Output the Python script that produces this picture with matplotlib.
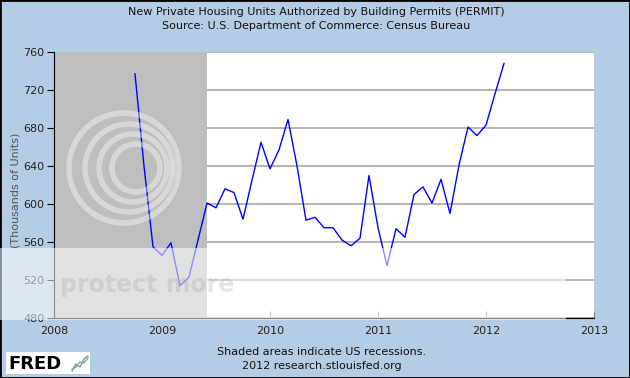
import numpy as np
import matplotlib
matplotlib.use("Agg")
import matplotlib.pyplot as plt
from matplotlib.patches import Rectangle, Ellipse
from matplotlib.lines import Line2D

# monthly values, Oct 2008 .. Mar 2012 (thousands of units)
start_year = 2008
start_month = 10
permits = [737, 640, 555,
           546, 559, 514, 523, 562, 601, 596, 616, 612, 584, 625, 665,
           637, 657, 689, 640, 583, 586, 575, 575, 562, 556, 564, 630,
           575, 535, 574, 565, 610, 618, 601, 626, 590, 641, 681, 672,
           683, 716, 748]
recession = (2008.0, 2009 + 5/12)   # Dec 2007 - Jun 2009
year_ticks = [2008, 2009, 2010, 2011, 2012, 2013]
y_ticks = [480, 520, 560, 600, 640, 680, 720, 760]

title1 = "New Private Housing Units Authorized by Building Permits (PERMIT)"
title2 = "Source: U.S. Department of Commerce: Census Bureau"
note1 = "Shaded areas indicate US recessions."
note2 = "2012 research.stlouisfed.org"

W, H = 630, 378
BG = "#b4cce4"

def fx(px):
    return px / W

def fy(py):
    return 1 - py / H

t = np.array([start_year + (start_month - 1 + i) / 12 for i in range(len(permits))])

fig = plt.figure(figsize=(W/100, H/100), dpi=100, facecolor=BG)
ax = fig.add_axes([fx(54), fy(318), fx(594) - fx(54), fy(52) - fy(318)])
ax.set_facecolor("white")

ax.set_xlim(2008, 2013)
ax.set_ylim(480, 760)
ax.set_yticks(y_ticks)
ax.set_xticks(year_ticks)
ax.grid(axis="y", color="#a8a8a8", linewidth=1.2, zorder=1)
ax.axvspan(recession[0], recession[1], color="#bebebe", lw=0, zorder=2)
ax.plot(t, permits, color="#0000ff", linewidth=1.0, zorder=3)

for s in ["top", "right"]:
    ax.spines[s].set_visible(False)
ax.spines["left"].set_color("black")
ax.spines["bottom"].set_color("black")
ax.tick_params(axis="y", direction="out", length=5, color="black",
               labelsize=8, labelcolor="#222222", pad=2)
ax.tick_params(axis="x", direction="in", length=5, color="#888888",
               labelsize=8, labelcolor="#222222", pad=6)

fig.text(fx(16), fy(190), "(Thousands of Units)", rotation=90,
         ha="center", va="center", fontsize=8, color="#555555")
fig.text(fx(316), fy(12), title1, ha="center", va="center", fontsize=8, color="#111111")
fig.text(fx(316), fy(26), title2, ha="center", va="center", fontsize=8, color="#111111")
fig.text(fx(322), fy(352), note1, ha="center", va="center", fontsize=8, color="#111111")
fig.text(fx(322), fy(366), note2, ha="center", va="center", fontsize=8, color="#111111")

# FRED logo
fig.add_artist(Rectangle((fx(6), fy(374)), fx(84), fy(352) - fy(374),
                         transform=fig.transFigure, facecolor="white", edgecolor="none"))
fig.text(fx(8), fy(364), "FRED", ha="left", va="center", fontsize=13,
         fontweight="bold", color="black")
fig.add_artist(Line2D([fx(72), fx(76), fx(80), fx(84), fx(88)],
                      [fy(371), fy(364), fy(367), fy(359), fy(356)],
                      transform=fig.transFigure, color="#6aa84f", lw=1))
fig.add_artist(Line2D([fx(72), fx(76), fx(80), fx(84), fx(88)],
                      [fy(369), fy(367), fy(362), fy(363), fy(358)],
                      transform=fig.transFigure, color="#7f9fbf", lw=1))

# photobucket watermark
fig.add_artist(Rectangle((fx(0), fy(320)), fx(566), fy(248) - fy(320),
                         transform=fig.transFigure, facecolor="white",
                         edgecolor="none", alpha=0.55, zorder=5))
for r, dx in [(55, 0), (44, 5), (34, 9), (24, 12)]:
    fig.add_artist(Ellipse((fx(124 + dx), fy(168)), 2 * r / W, 2 * r / H,
                           transform=fig.transFigure, fill=False,
                           edgecolor="white", lw=4, alpha=0.4, zorder=5))
fig.text(fx(60), fy(285), "protect more", ha="left", va="center", fontsize=17,
         fontweight="bold", color="#9a9a9a", alpha=0.25, zorder=6)

# outer frame
fig.add_artist(Rectangle((0, 0), 1, 1, transform=fig.transFigure,
                         fill=False, edgecolor="black", lw=2))

fig.savefig("out.png", dpi=100, facecolor=BG)
